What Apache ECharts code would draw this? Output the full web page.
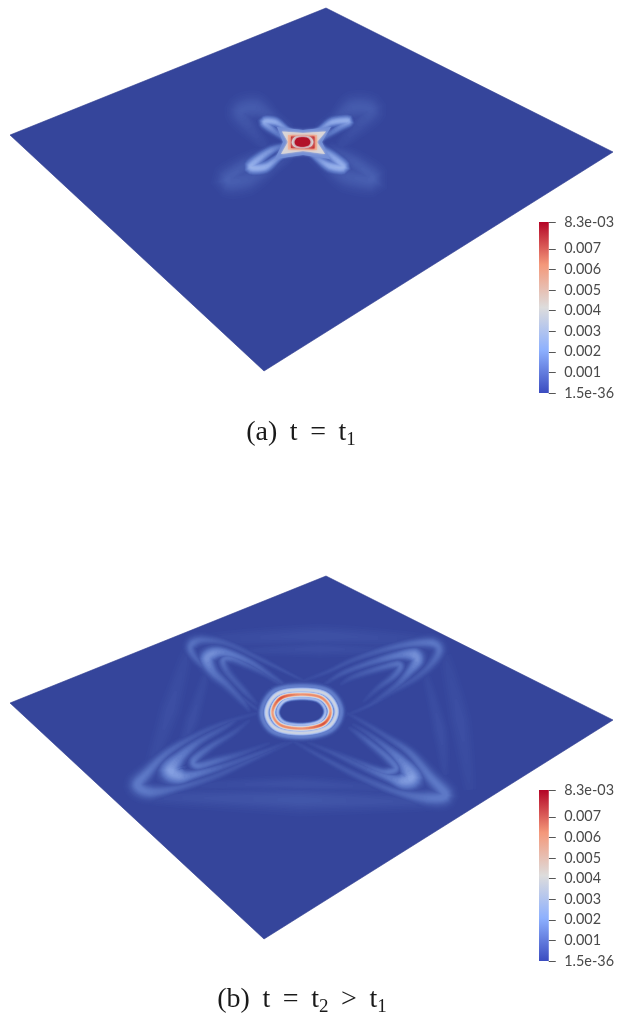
<!DOCTYPE html>
<html><head><meta charset="utf-8">
<style>html,body{margin:0;padding:0;background:#fff}#c{width:617px;height:1015px}</style>
<script src="https://cdn.jsdelivr.net/npm/echarts@6/dist/echarts.min.js"></script>
</head><body><div id="c"></div>
<script>
// ---- colour bar ----
const tickValues = [0.0083,0.007,0.006,0.005,0.004,0.003,0.002,0.001,0];
const tickLabels = ['8.3e-03','0.007','0.006','0.005','0.004','0.003','0.002','0.001','1.5e-36'];
const barStops = [[0,'#3b4cc0'],[0.25,'#8db0fe'],[0.5,'#dddcdc'],[0.75,'#f4987a'],[1,'#b40426']];
const planeStops = [[0,'#35459b'],[0.0005,'#465cae'],[0.001,'#5d78c6'],[0.002,'#8ba6e6'],[0.003,'#b5c7ee'],[0.0041,'#d6d8de'],[0.005,'#f3bfa6'],[0.006,'#ea8c6c'],[0.007,'#d8503c'],[0.0083,'#b2122a']];

// ---- plane corners (top, right, bottom, left) ----
const planeAX=[326,613,264,10], planeAY=[8,152,371,135];
const planeBX=[326,613,264,10], planeBY=[576,720,939,703];

// ---- ribbons: [x, y, value, spread] ----
const bFaintTop1=[[195,641,.0001,3],[320,636,.0003,4],[440,642,.0001,3]];
const bFaintTop2=[[240,651,.0001,2],[320,649,.00025,3],[400,651,.0001,2]];
const bFaintLeft1=[[188,650,.0001,3],[170,710,.00025,4],[148,775,.0001,3]];
const bFaintLeft2=[[208,668,.0001,2],[192,720,.00025,3],[178,760,.0001,2]];
const bFaintRight1=[[445,655,.0001,3],[460,720,.00025,4],[470,790,.0001,3]];
const bFaintRight2=[[425,672,.0001,2],[440,730,.00025,3],[445,775,.0001,2]];
const bFaintBottom1=[[150,797,.0002,3],[300,800,.0004,5],[445,802,.0002,3]];
const bFaintBottom2=[[185,786,.0001,2],[300,784,.0003,3],[410,790,.0001,2]];
const bFaint=[bFaintTop1,bFaintTop2,bFaintLeft1,bFaintLeft2,bFaintRight1,bFaintRight2,bFaintBottom1,bFaintBottom2];

const bTLa=[[264,714,.0001,1],[250,704,.0003,1.2],[222,682,.0004,1.6],[201,664,.0006,2],[191,651,.0008,2.5],[193,643,.0009,3],[205,640,.0007,2.5],[228,644,.0005,2],[262,660,.0004,1.5],[290,674,.0003,1],[306,682,.0001,1]];
const bTLb=[[250,712,.0001,1],[243,702,.0005,1.8],[227,685,.0007,2.4],[213,672,.001,3],[207,659,.0016,3.8],[214,653,.0015,3.4],[227,653,.0011,2.6],[250,662,.0008,2],[273,677,.0005,1.5],[292,690,.0001,1]];
const bTLc=[[258,705,.0001,1],[245,692,.0005,1.8],[228,673,.0006,2.2],[223,661,.0009,2.4],[230,658,.0009,2.4],[243,663,.0007,2],[267,675,.0004,1.6],[283,687,.0002,1]];

const bTRa=[[300,682,.0001,1],[327,672,.0003,1.2],[353,660,.0004,1.6],[383,650,.0006,2],[410,644,.0008,2.5],[432,643,.001,3],[439,650,.0009,3],[433,662,.0007,2.5],[417,677,.0005,2],[390,693,.0003,1.5],[370,705,.0003,1.2],[345,716,.0001,1]];
const bTRb=[[322,686,.0001,1],[343,673,.0005,1.5],[373,662,.0007,2],[400,655,.0011,2.6],[414,655,.0016,3.8],[417,661,.0015,3.4],[410,671,.001,2.6],[397,685,.0006,2],[377,700,.0003,1.4],[362,710,.0001,1]];
const bTRc=[[340,685,.0001,1],[353,677,.0004,1.6],[380,668,.0007,2],[397,664,.0009,2.4],[400,668,.0009,2.4],[393,677,.0007,2],[378,688,.0004,1.6],[363,702,.0001,1]];

const bBLa=[[262,712,.0001,1],[227,722,.0003,1.4],[197,735,.0005,1.8],[167,753,.0008,2.5],[147,773,.001,3.5],[138,785,.0011,4.4],[150,792,.001,3.8],[177,788,.0007,2.4],[213,777,.0005,2],[247,762,.0004,1.5],[280,747,.0002,1.2],[302,738,.0001,1]];
const bBLb=[[240,716,.0001,1],[227,726,.0004,1.5],[200,741,.0007,2.2],[180,757,.0012,3.4],[171,770,.002,5.6],[180,776,.0017,4.2],[193,775,.0011,2.6],[227,765,.0006,2],[263,752,.0004,1.4],[288,742,.0001,1]];
const bBLc=[[250,720,.0001,1],[233,733,.0004,1.6],[210,747,.0007,2],[194,760,.001,2.6],[198,766,.001,2.6],[217,761,.0008,2.2],[243,753,.0004,1.6],[270,743,.0001,1]];

const bBRa=[[345,712,.0001,1],[363,722,.0003,1.4],[387,737,.0005,1.8],[410,753,.0008,2.5],[430,777,.001,3.5],[445,795,.0011,4.4],[427,798,.001,3.8],[397,792,.0007,2.4],[360,777,.0005,2],[327,760,.0004,1.5],[300,745,.0002,1.2],[285,736,.0001,1]];
const bBRb=[[352,724,.0001,1],[367,733,.0004,1.5],[387,748,.0008,2.2],[403,763,.0013,3.4],[411,777,.002,5.6],[402,781,.0017,4.2],[390,778,.0011,2.6],[363,767,.0006,2],[333,753,.0004,1.4],[307,742,.0001,1]];
const bBRc=[[348,727,.0001,1],[357,733,.0004,1.6],[370,743,.0007,2],[387,757,.0009,2.4],[396,768,.001,2.6],[388,772,.001,2.4],[377,770,.0008,2],[353,760,.0004,1.6],[323,747,.0001,1]];
const bPetals=[bTLa,bTLb,bTLc,bTRa,bTRb,bTRc,bBLa,bBLb,bBLc,bBRa,bBRb,bBRc];

// ---- ribbons ----
const aTLo=[[268,150,.0001,2],[250,128,.0003,4],[241,112,.0005,5],[256,108,.0005,5],[275,119,.0003,3],[292,128,.0001,2]];
const aTRo=[[336,150,.0001,2],[358,126,.0003,4],[370,110,.0005,5],[352,108,.0005,5],[335,119,.0003,3],[316,128,.0001,2]];
const aBLo=[[278,146,.0001,2],[262,155,.0003,3],[245,166,.0005,4],[228,180,.0006,5],[248,179,.0005,5],[275,165,.0003,3],[292,156,.0001,2]];
const aBRo=[[328,146,.0001,2],[338,152,.0003,3],[355,163,.0005,4],[372,179,.0006,5],[346,176,.0005,5],[325,165,.0003,3],[310,157,.0001,2]];
const aOuter=[aTLo,aTRo,aBLo,aBRo];
const aTLi=[[286,140,.0006,1.2],[273,130,.0014,2],[265,122,.0023,2.5],[275,122,.0022,2.2],[285,128,.0016,1.6],[294,134,.0006,1]];
const aTRi=[[322,139,.0006,1.2],[340,127,.0014,2],[348,121,.0023,2.5],[333,122,.0022,2.2],[322,128,.0016,1.6],[313,134,.0006,1]];
const aBLi=[[284,145,.0006,1.2],[272,150,.0016,2],[260,158,.002,2.5],[251,167,.0024,3],[265,167,.0023,2.6],[278,158,.0016,1.8],[289,152,.0006,1]];
const aBRi=[[316,145,.0006,1.2],[323,150,.0016,2],[333,157,.002,2.5],[343,167,.0024,3],[330,166,.0023,2.6],[317,158,.0016,1.8],[308,152,.0006,1]];
const aInner=[aTLi,aTRi,aBLi,aBRi];

const ringOutlineX=[-.72,-.05,.68,1,.76,.05,-.72,-1];
const ringOutlineY=[-.78,-1,-.82,-.05,.72,1,.8,.05];
const ringCentreB=[301.5,711.5];
const ringB=[
  {rx:39.5,ry:25,s:3.4,v:[.0012,.0012,.0012,.0012,.0012,.0012,.0012,.0012]},
  {rx:35,ry:21.5,s:2.5,v:[.004,.0039,.004,.0038,.004,.0039,.004,.0038]},
  {rx:29,ry:17,s:2.6,v:[.0072,.006,.0062,.0058,.0072,.006,.0062,.0058]},
  {rx:24,ry:13.5,s:1.7,v:[.0032,.0028,.0026,.0026,.0032,.0028,.0026,.0026]}
];

// ---- filled centre of panel (a): [x, y] outlines with a value, drawn in this order ----
const aStarOuter=[[277,127],[303,130],[331,127],[322,142],[330,159],[303,155],[275,159],[283,142]];
const aStarInner=[[282,131.5],[303,133],[326,131.5],[317,142],[325,154],[303,151],[281,154],[288,142]];
const aRectPeach=[[288,135],[317,135],[317,150],[288,149.5]];
const aRectOrange=[[291,136.5],[314.5,136.5],[314.5,148.5],[291,148]];
const patchValues=[.0015,.0042,.0052,.0076];
const ringCentreA=[302.5,142];
const discA=[{rx:10.8,ry:6.3,v:.0042},{rx:7.8,ry:4.7,v:.0083}];

// ---- drawing helpers ----
function hex(c){return [1,3,5].map(i=>parseInt(c.substr(i,2),16));}
function planeColor(v){
  for(let i=1;i<planeStops.length;i++){
    if(v<=planeStops[i][0]){
      const a=planeStops[i-1],b=planeStops[i],t=(v-a[0])/(b[0]-a[0]);
      const ca=hex(a[1]),cb=hex(b[1]);
      return 'rgb('+ca.map((x,k)=>Math.round(x+(cb[k]-x)*t)).join(',')+')';
    }
  }
  return planeStops[planeStops.length-1][1];
}
function spline(pts,closed,n){
  const out=[],N=pts.length,segs=closed?N:N-1;
  const at=i=>closed?pts[(i+N)%N]:pts[Math.max(0,Math.min(N-1,i))];
  for(let i=0;i<segs;i++){
    const p0=at(i-1),p1=at(i),p2=at(i+1),p3=at(i+2);
    for(let j=0;j<n;j++){
      const t=j/n,q=[];
      for(let k=0;k<p1.length;k++){
        if(k<2){q[k]=.5*((2*p1[k])+(p2[k]-p0[k])*t+(2*p0[k]-5*p1[k]+4*p2[k]-p3[k])*t*t+(3*p1[k]-p0[k]-3*p2[k]+p3[k])*t*t*t);}
        else q[k]=p1[k]+(p2[k]-p1[k])*t;
      }
      out.push(q);
    }
  }
  if(closed) out.push(out[0].slice()); else out.push(pts[N-1].slice());
  return out;
}
function ringRows(c,r){
  return ringOutlineX.map((u,i)=>[c[0]+u*r.rx,c[1]+ringOutlineY[i]*r.ry,r.v[i],r.s]);
}
function widen(list,f){return list.map(p=>spline(p.map(q=>[q[0],q[1],q[2],q[3]*f]),false,7));}
const ribbons=[].concat(
  widen(bFaint,2.2),widen(bPetals,1.9),widen(aOuter,2.2),widen(aInner,2.0),
  ringB.map(r=>spline(ringRows(ringCentreB,r),true,8)));

const levels=[];
for(let L=0.00004;L<0.001;L+=0.00004)levels.push(L);
for(let L=0.001;L<0.0084;L+=0.00012)levels.push(L);
const drawItems=[];
levels.forEach(L=>ribbons.forEach((r,idx)=>{ if(r.some(p=>p[2]>L)) drawItems.push([idx,L,0]); }));

function ribbonPolys(r,L){
  const runs=[];let cur=null;
  r.forEach((p,i)=>{
    if(p[2]>L){
      const a=r[Math.max(0,i-1)],b=r[Math.min(r.length-1,i+1)];
      let tx=b[0]-a[0],ty=b[1]-a[1];const m=Math.hypot(tx,ty)||1;tx/=m;ty/=m;
      const h=p[3]*Math.sqrt(Math.log(p[2]/L));
      if(!cur){cur={l:[],r:[]};runs.push(cur);}
      cur.l.push([p[0]-ty*h,p[1]+tx*h]);
      cur.r.push([p[0]+ty*h,p[1]-tx*h]);
    } else cur=null;
  });
  return runs.map(u=>u.l.concat(u.r.reverse()));
}
function ellipsePts(c,d){
  const rows=ringOutlineX.map((u,i)=>[c[0]+u*d.rx,c[1]+ringOutlineY[i]*d.ry]);
  return spline(rows,true,6);
}

const patchList=[
  {pts:aStarOuter,v:patchValues[0]},{pts:aStarInner,v:patchValues[1]},
  {pts:aRectPeach,v:patchValues[2]},{pts:aRectOrange,v:patchValues[3]},
  {pts:ellipsePts(ringCentreA,discA[0]),v:discA[0].v},
  {pts:ellipsePts(ringCentreA,discA[1]),v:discA[1].v}
];
patchList.forEach((p,i)=>drawItems.push([i,p.v,1]));

const planes=[[planeAX,planeAY],[planeBX,planeBY]];

const chart=echarts.init(document.getElementById('c'),null,{renderer:'canvas'});
const gradient=new echarts.graphic.LinearGradient(0,1,0,0,barStops.map(s=>({offset:s[0],color:s[1]})));
const cbarTops=[222,790];
function cbarAxis(i){return {
  gridIndex:i+1,type:'value',min:0,max:0.0083,position:'right',
  splitLine:{show:false},axisLine:{show:false},
  axisTick:{show:true,length:7,customValues:tickValues,lineStyle:{color:'#555',width:1}},
  axisLabel:{show:true,margin:15.5,customValues:tickValues,fontFamily:'Lato',fontSize:14.4,color:'#4a4a4a',
    showMinLabel:true,showMaxLabel:true,hideOverlap:false,
    formatter:v=>{let k=0,b=1e9;tickValues.forEach((t,j)=>{const d=Math.abs(t-v);if(d<b){b=d;k=j;}});return tickLabels[k];}}
};}
const capStyle={fontFamily:'Liberation Serif',fontSize:28,fontWeight:'normal',color:'#1a1a1a',lineHeight:34,
  rich:{sub:{fontFamily:'Liberation Serif',fontSize:19,color:'#1a1a1a',verticalAlign:'bottom',lineHeight:34}}};
const gap=' \u2009';
chart.setOption({
  animation:false,
  backgroundColor:'#fff',
  title:[
    {text:'(a)'+gap+'t'+gap+'='+gap+'t{sub|1}',left:301,top:416,textAlign:'center',textStyle:capStyle,padding:0},
    {text:'(b)'+gap+'t'+gap+'='+gap+'t{sub|2}'+gap+'>'+gap+'t{sub|1}',left:302,top:983,textAlign:'center',textStyle:capStyle,padding:0}
  ],
  grid:[
    {left:0,top:0,width:617,height:1015},
    {left:539,top:cbarTops[0],width:14.5,height:171},
    {left:539,top:cbarTops[1],width:14.5,height:171}
  ],
  xAxis:[
    {gridIndex:0,type:'value',min:0,max:617,show:false},
    {gridIndex:1,type:'category',data:[''],show:false},
    {gridIndex:2,type:'category',data:[''],show:false}
  ],
  yAxis:[
    {gridIndex:0,type:'value',min:0,max:1015,inverse:true,show:false},
    cbarAxis(0),cbarAxis(1)
  ],
  series:[
    {type:'custom',xAxisIndex:0,yAxisIndex:0,silent:true,clip:false,z:1,
      data:planes.map((p,i)=>[i]),encode:{x:0,y:0},
      renderItem:(params,api)=>{
        const p=planes[api.value(0)];
        return {type:'polygon',shape:{points:p[0].map((x,i)=>api.coord([x,p[1][i]]))},
          style:{fill:planeStops[0][1],stroke:'#2f3d8f',lineWidth:0.6}};
      }},
    {type:'custom',xAxisIndex:0,yAxisIndex:0,silent:true,clip:false,z:2,progressive:0,
      data:drawItems,encode:{x:0,y:1},
      renderItem:(params,api)=>{
        const idx=api.value(0),L=api.value(1),kind=api.value(2);
        const col=planeColor(L);
        if(kind===1){
          return {type:'polygon',shape:{points:patchList[idx].pts.map(q=>api.coord([q[0],q[1]]))},
            style:{fill:col,shadowBlur:2.5,shadowColor:col}};
        }
        const polys=ribbonPolys(ribbons[idx],L);
        return {type:'group',children:polys.map(pts=>({type:'polygon',
          shape:{points:pts.map(q=>api.coord(q))},style:{fill:col}}))};
      }},
    {type:'bar',xAxisIndex:1,yAxisIndex:1,data:[0.0083],barWidth:'100%',silent:true,itemStyle:{color:gradient}},
    {type:'bar',xAxisIndex:2,yAxisIndex:2,data:[0.0083],barWidth:'100%',silent:true,itemStyle:{color:gradient}}
  ]
});
</script></body></html>
